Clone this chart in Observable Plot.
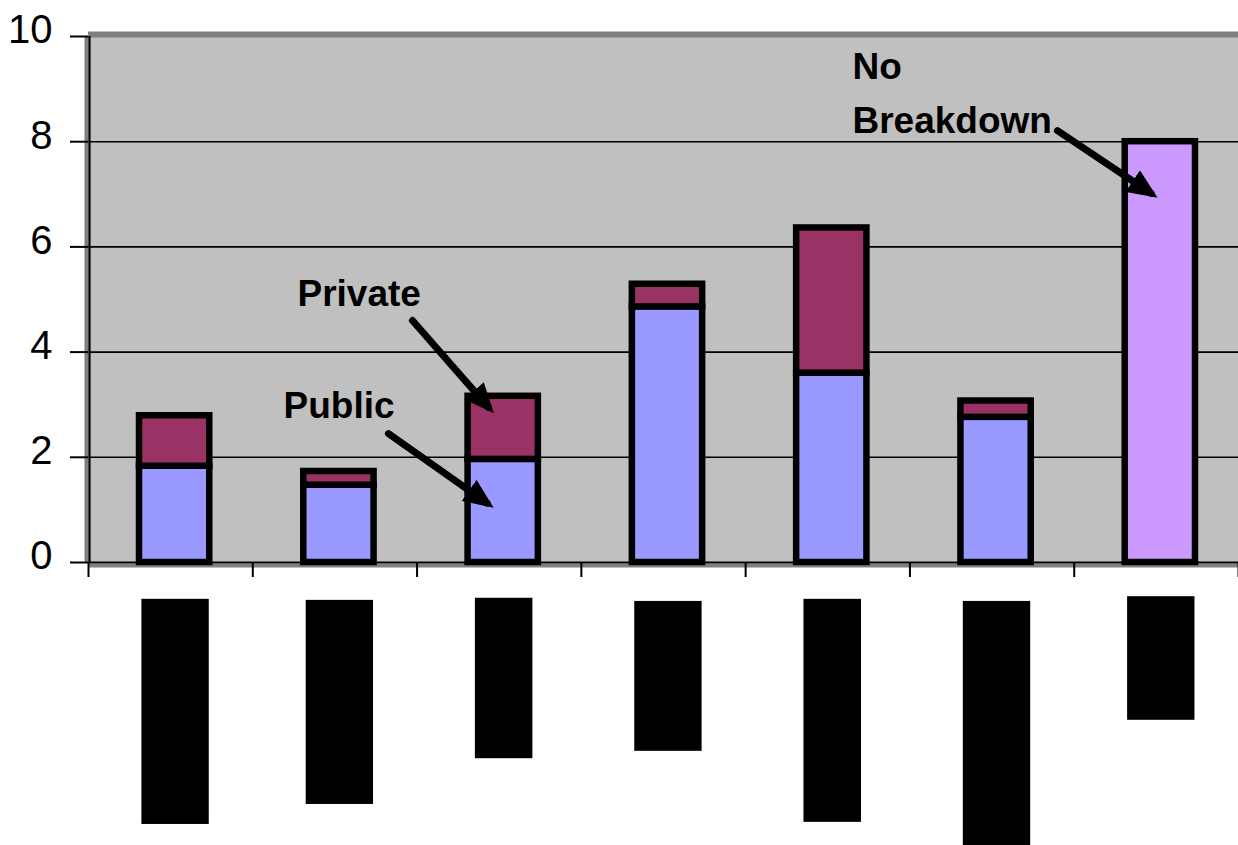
<!DOCTYPE html>
<html>
<head>
<meta charset="utf-8">
<script src="https://cdn.jsdelivr.net/npm/d3@7"></script>
<script src="https://cdn.jsdelivr.net/npm/@observablehq/plot@0.6"></script>
<style>
  html, body { margin: 0; padding: 0; background: #ffffff; overflow: hidden; }
  #chart svg { display: block; }
</style>
</head>
<body>
<div id="chart"></div>
<script>
// ---- data (category labels are redacted in the source: drawn as black blocks) ----
const categories = ["1", "2", "3", "4", "5", "6", "7"];
const publicValues      = [1.83, 1.47, 1.96, 4.86, 3.60, 2.76, null];
const privateValues     = [0.96, 0.26, 1.20, 0.43, 2.76, 0.31, null];
const noBreakdownValues = [null, null, null, null, null, null, 8.0];
const seriesNames  = ["Public", "Private", "No Breakdown"];
const seriesColors = ["#9999ff", "#993366", "#cc99ff"];
const yTicks = [0, 2, 4, 6, 8, 10];

// redacted category labels (extent in value units below the axis, width as band fraction)
const redactTop    = [-0.70, -0.72, -0.68, -0.74, -0.70, -0.74, -0.65];
const redactBottom = [-4.98, -4.60, -3.73, -3.59, -4.94, -5.38, -3.00];
const redactWidth  = [0.41, 0.41, 0.35, 0.41, 0.35, 0.41, 0.41];

// annotations
const noteText = ["Private", "Public", "No\nBreakdown"];
const noteX    = [1.272, 1.187, 4.650];
const noteY    = [4.87, 2.74, 8.17];
const arrowX1 = [1.972, 1.826, 5.898];
const arrowY1 = [4.60, 2.45, 8.21];
const arrowX2 = [2.435, 2.426, 6.467];
const arrowY2 = [2.95, 1.13, 7.02];

// ---- tables built from the arrays ----
const bars = [];
categories.forEach((c, i) => {
  if (publicValues[i] != null) bars.push({i, series: "Public", value: publicValues[i]});
  if (privateValues[i] != null) bars.push({i, series: "Private", value: privateValues[i]});
  if (noBreakdownValues[i] != null) bars.push({i, series: "No Breakdown", value: noBreakdownValues[i]});
});
const redactions = categories.map((c, i) => ({
  i, top: redactTop[i], bottom: redactBottom[i], w: redactWidth[i]
}));
const notes = noteText.map((t, k) => ({text: t, x: noteX[k], y: noteY[k]}));
const arrows = arrowX1.map((x, k) => ({x1: x, y1: arrowY1[k], x2: arrowX2[k], y2: arrowY2[k]}));
const xTicks = d3.range(categories.length + 1);

function filledArrowhead(color) {
  const m = d3.create("svg:marker")
    .attr("viewBox", "-22 -13 30 26")
    .attr("markerWidth", 30)
    .attr("markerHeight", 26)
    .attr("markerUnits", "userSpaceOnUse")
    .attr("refX", 0)
    .attr("refY", 0)
    .attr("orient", "auto");
  m.append("path").attr("d", "M-22,-13L8,0L-22,13Z").attr("fill", color).attr("stroke", "none");
  return m.node();
}

const chart = Plot.plot({
  width: 1238,
  height: 845,
  marginLeft: 88,
  marginRight: 0,
  marginTop: 36,
  marginBottom: 283,
  style: {fontFamily: "'Liberation Sans', Arial, sans-serif", background: "#ffffff", color: "#000000"},
  x: {domain: [0, categories.length], axis: null},
  y: {domain: [0, 10], axis: null},
  color: {domain: seriesNames, range: seriesColors},
  marks: [
    Plot.frame({fill: "#c0c0c0", stroke: null}),
    Plot.ruleY([10], {stroke: "#808080", strokeWidth: 6, dy: -2}),
    Plot.ruleY([2, 4, 6, 8], {stroke: "#000000", strokeWidth: 1.6}),
    Plot.ruleX([0], {stroke: "#808080", strokeWidth: 4, dx: -2}),
    Plot.ruleY([0], {stroke: "#808080", strokeWidth: 4, dy: 3}),
    Plot.rectY(bars, {
      x: "i", interval: 1, y: "value", fill: "series",
      stroke: "#000000", strokeWidth: 6.5, insetLeft: 51, insetRight: 43
    }),
    Plot.ruleX([0], {stroke: "#000000", strokeWidth: 2.2, dx: 1}),
    Plot.ruleY([0], {stroke: "#000000", strokeWidth: 2.2}),
    Plot.axisY({ticks: yTicks, tickSize: 18, tickFormat: () => "", strokeWidth: 2, label: null}),
    Plot.axisY({ticks: yTicks, tickSize: 0, tickPadding: 36, fontSize: 40, dy: -6, label: null}),
    Plot.axisX({ticks: xTicks, tickSize: 15, tickFormat: () => "", strokeWidth: 2, label: null}),
    Plot.rect(redactions, {
      x1: d => d.i + 0.53 - d.w / 2, x2: d => d.i + 0.53 + d.w / 2,
      y1: "top", y2: "bottom", fill: "#000000"
    }),
    Plot.link(arrows, {
      x1: "x1", y1: "y1", x2: "x2", y2: "y2",
      stroke: "#000000", strokeWidth: 7, strokeLinecap: "round",
      markerEnd: filledArrowhead
    }),
    Plot.text(notes, {
      x: "x", y: "y", text: "text", textAnchor: "start", lineAnchor: "bottom",
      lineHeight: 1.46, fontSize: 37, fontWeight: "bold", fill: "#000000"
    })
  ]
});
document.getElementById("chart").appendChild(chart);
</script>
</body>
</html>
